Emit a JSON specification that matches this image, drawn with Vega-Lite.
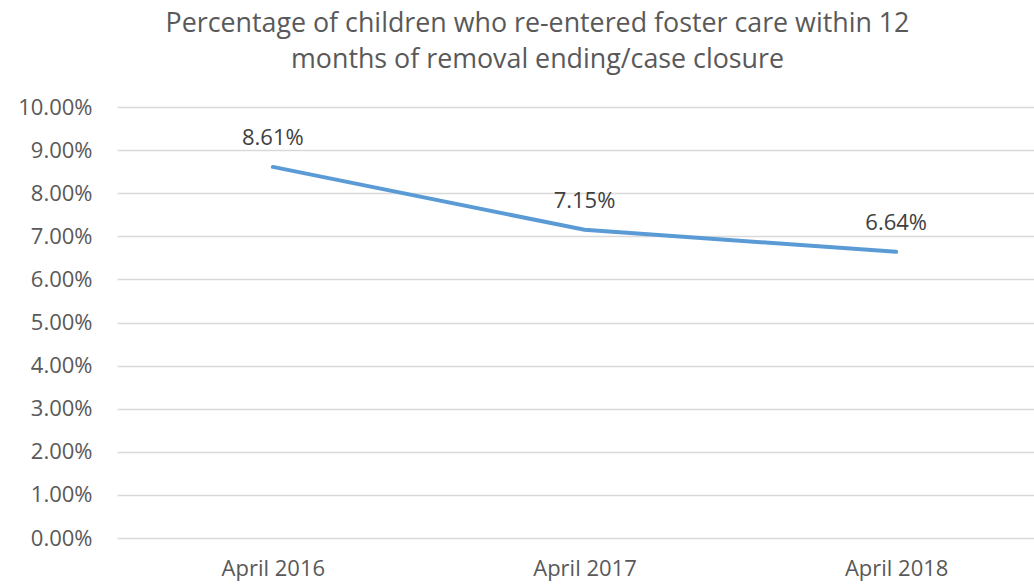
{
  "$schema": "https://vega.github.io/schema/vega-lite/v6.json",
  "autosize": "none",
  "padding": {"left": 117, "top": 107, "right": 0, "bottom": 46},
  "width": 935,
  "height": 431,
  "background": "white",
  "title": {
    "text": ["Percentage of children who re-entered foster care within 12", "months of removal ending/case closure"],
    "font": "Open Sans",
    "fontSize": 26.8,
    "fontWeight": "normal",
    "color": "#595959",
    "anchor": "middle",
    "dx": -47,
    "offset": 22,
    "lineHeight": 36
  },
  "data": {"values": [
    {"period": "April 2016", "pct": 0.0861},
    {"period": "April 2017", "pct": 0.0715},
    {"period": "April 2018", "pct": 0.0664}
  ]},
  "encoding": {
    "x": {"field": "period", "type": "nominal", "sort": null,
      "axis": {"title": null, "labelAngle": 0, "ticks": false, "domain": false, "labelFont": "Open Sans", "labelFontSize": 22, "labelColor": "#595959", "labelPadding": 20}},
    "y": {"field": "pct", "type": "quantitative",
      "scale": {"domain": [0, 0.1], "nice": false},
      "axis": {"title": null, "format": ".2%", "values": [0,0.01,0.02,0.03,0.04,0.05,0.06,0.07,0.08,0.09,0.1], "labelOverlap": false, "labelBound": false, "ticks": false, "domain": false, "gridColor": "#d9d9d9", "gridWidth": 1.3, "labelFont": "Open Sans", "labelFontSize": 22, "labelColor": "#595959", "labelPadding": 25}}
  },
  "layer": [
    {"mark": {"type": "line", "color": "#5B9BD5", "strokeWidth": 4, "strokeCap": "round"}},
    {"mark": {"type": "text", "dy": -29, "font": "Open Sans", "fontSize": 22, "color": "#404040"},
     "encoding": {"text": {"field": "pct", "type": "quantitative", "format": ".2%"}}}
  ],
  "config": {"view": {"stroke": null}}
}
